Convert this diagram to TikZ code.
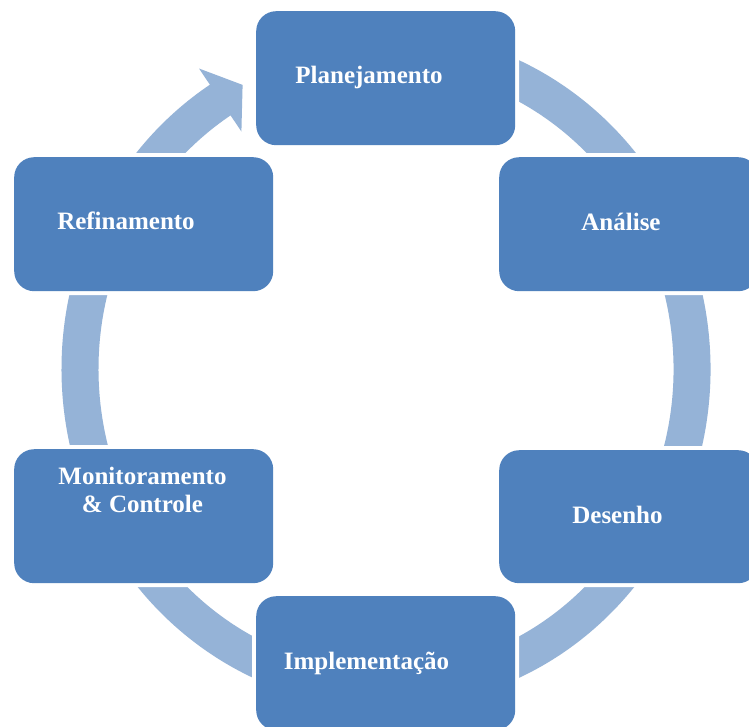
\documentclass[tikz,border=0pt]{standalone}
\usepackage{fontspec}
\setmainfont{Liberation Serif}
\definecolor{boxblue}{HTML}{4F81BD}
\definecolor{ringblue}{HTML}{95B3D7}
\begin{document}
\begin{tikzpicture}[x=1pt,y=-1pt,
  stagebox/.style={rectangle, rounded corners=20pt, fill=boxblue, draw=none,
    preaction={draw=white, line width=8pt}, inner sep=0pt},
  stagetext/.style={text=white, font=\bfseries\fontsize{25}{28}\selectfont, inner sep=0pt, align=center},
  ring/.style={draw=ringblue, line width=37pt, line cap=butt}]
\useasboundingbox (0,0) rectangle (749,726);
\clip (0,0) rectangle (749,726);
\fill[white] (0,0) rectangle (749,726);
% ring
\coordinate (c) at (386,369);
\draw[ring] (c) ++(-100:306 and 320) arc[start angle=-100, end angle=237.6, x radius=306, y radius=320];
\coordinate (hb1) at (199,68.5);
\coordinate (ht) at (242.6,84.9);
\coordinate (hb2) at (241.4,131.5);
\fill[ringblue] (hb1) -- (ht) -- (hb2) -- cycle;
% boxes
\node[stagebox, minimum width=259pt, minimum height=134pt, anchor=north west] (plan) at (256,11) {};
\node[stagebox, minimum width=259pt, minimum height=134pt, anchor=north west] (anal) at (499,157) {};
\node[stagebox, minimum width=259pt, minimum height=133pt, anchor=north west] (des) at (499,450) {};
\node[stagebox, minimum width=259pt, minimum height=134pt, anchor=north west] (impl) at (256,596) {};
\node[stagebox, minimum width=259pt, minimum height=134pt, anchor=north west] (mon) at (14,449) {};
\node[stagebox, minimum width=259pt, minimum height=134pt, anchor=north west] (ref) at (14,157) {};
% texts
\node[stagetext, anchor=base] (tplan) at (369,83) {Planejamento};
\node[stagetext, anchor=base] (tanal) at (621,230) {Análise};
\node[stagetext, anchor=base] (tdes) at (617.5,523) {Desenho};
\node[stagetext, anchor=base] (timpl) at (366.5,669) {Implementação};
\node[stagetext, anchor=center] (tmon) at (142.5,489.5) {Monitoramento\\\& Controle};
\node[stagetext, anchor=base] (tref) at (126,229) {Refinamento};
\end{tikzpicture}
\end{document}
